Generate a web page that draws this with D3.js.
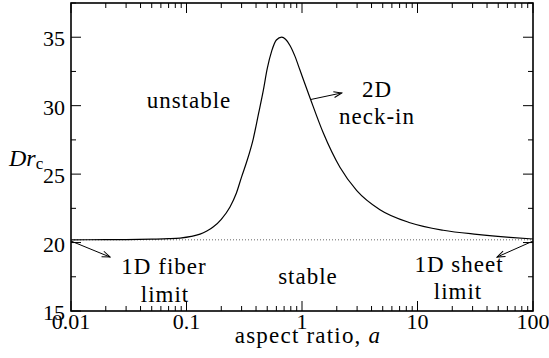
<!DOCTYPE html>
<html>
<head>
<meta charset="utf-8">
<script src="https://cdn.jsdelivr.net/npm/d3@7"></script>
</head>
<body style="margin:0">
<svg id="chart" width="549" height="358"></svg>
<script>
// curve
const aspectRatio = [0.01, 0.02, 0.03, 0.05, 0.07, 0.088, 0.11, 0.131, 0.15, 0.171, 0.2, 0.238, 0.27, 0.30, 0.332, 0.379, 0.42, 0.462, 0.50, 0.547, 0.60, 0.667, 0.72, 0.787, 0.87, 0.96, 1.17, 1.53, 2.13, 2.98, 4.73, 8.6, 16.7, 32.6, 63, 100];
const drc = [20.20, 20.21, 20.22, 20.25, 20.28, 20.33, 20.45, 20.62, 20.85, 21.15, 21.7, 22.6, 23.6, 24.8, 25.9, 27.6, 29.4, 31.1, 32.7, 34.0, 34.8, 35.0, 34.85, 34.4, 33.6, 32.6, 30.6, 28.0, 25.5, 23.8, 22.4, 21.45, 20.9, 20.6, 20.38, 20.26];
const limitDrc = 20.2;

const xTicks = [0.01, 0.1, 1, 10, 100];
const xTickLabels = ['0.01', '0.1', '1', '10', '100'];
const yTicks = [15, 20, 25, 30, 35];
const yMinorTicks = [17.5, 22.5, 27.5, 32.5, 37.5];

// annotation arrows: [fromA, fromDrc, toA, toDrc]
const arrowFiber = [0.01, 20.11, 0.0218, 18.94];
const arrowNeck = [1.19, 30.45, 2.21, 30.93];
const arrowSheet = [100, 20.11, 48.8, 18.94];

const FONT = 'Liberation Serif';
const svg = d3.select('#chart');
const margin = { top: 3, right: 16, bottom: 47, left: 71 };
const width = 549, height = 358;
const innerW = width - margin.left - margin.right;
const innerH = height - margin.top - margin.bottom;

const x = d3.scaleLog([0.01, 100], [0, innerW]);
const y = d3.scaleLinear([15, 37.5], [innerH, 0]);

svg.append('defs').append('marker')
  .attr('id', 'head').attr('viewBox', '0 0 10 8').attr('refX', 9).attr('refY', 4)
  .attr('markerWidth', 10).attr('markerHeight', 8).attr('markerUnits', 'userSpaceOnUse')
  .attr('orient', 'auto')
  .append('path').attr('d', 'M1,1 L9,4 L1,7').attr('fill', 'none').attr('stroke', '#000').attr('stroke-width', 1);

const g = svg.append('g').attr('transform', `translate(${margin.left},${margin.top})`);

const minorX = [];
for (let p = -2; p < 2; p++) for (let k = 2; k <= 9; k++) minorX.push(k * Math.pow(10, p));

// ticks on all four sides, pointing inward
const tickG = g.append('g').attr('stroke', '#000').attr('stroke-width', 1);
function tick(x1, y1, x2, y2) { tickG.append('line').attr('x1', x1).attr('y1', y1).attr('x2', x2).attr('y2', y2); }
xTicks.forEach((t) => { tick(x(t), innerH, x(t), innerH - 10); tick(x(t), 0, x(t), 10); });
minorX.forEach((t) => { tick(x(t), innerH, x(t), innerH - 5); tick(x(t), 0, x(t), 5); });
yTicks.forEach((t) => { tick(0, y(t), 10, y(t)); tick(innerW, y(t), innerW - 10, y(t)); });
yMinorTicks.forEach((t) => { tick(0, y(t), 5, y(t)); tick(innerW, y(t), innerW - 5, y(t)); });

g.append('rect').attr('width', innerW).attr('height', innerH)
  .attr('fill', 'none').attr('stroke', '#000').attr('stroke-width', 1.6);

// tick labels
g.append('g').selectAll('text').data(xTicks).join('text')
  .attr('font-family', FONT)
  .attr('x', (d) => x(d)).attr('y', innerH + 18)
  .attr('text-anchor', 'middle').attr('font-size', 22)
  .text((d, i) => xTickLabels[i]);
g.append('g').selectAll('text').data(yTicks).join('text')
  .attr('font-family', FONT)
  .attr('x', -6).attr('y', (d) => y(d) + 9)
  .attr('text-anchor', 'end').attr('font-size', 22)
  .text((d) => d);

// axis titles
const xt = g.append('text').attr('font-family', FONT).attr('x', innerW / 2 + 6).attr('y', innerH + 32)
  .attr('text-anchor', 'middle').attr('font-size', 23).attr('letter-spacing', 1.2);
xt.append('tspan').text('aspect ratio, ');
xt.append('tspan').attr('font-style', 'italic').text('a');
const yt = svg.append('text').attr('font-family', FONT).attr('x', 9).attr('y', 166).attr('font-size', 24);
yt.append('tspan').attr('font-style', 'italic').text('Dr');
yt.append('tspan').attr('font-size', 17).attr('dy', 3).text('c');

// 1D limit dotted line
g.append('line').attr('x1', 0).attr('x2', innerW).attr('y1', y(limitDrc)).attr('y2', y(limitDrc))
  .attr('stroke', '#666').attr('stroke-width', 1).attr('stroke-dasharray', '1,2');

// curve
const pts = aspectRatio.map((a, i) => [a, drc[i]]);
g.append('path').datum(pts)
  .attr('d', d3.line().x((d) => x(d[0])).y((d) => y(d[1])).curve(d3.curveMonotoneX))
  .attr('fill', 'none').attr('stroke', '#000').attr('stroke-width', 1.2);

// arrows
[arrowFiber, arrowNeck, arrowSheet].forEach((ar) => {
  g.append('line').attr('x1', x(ar[0])).attr('y1', y(ar[1])).attr('x2', x(ar[2])).attr('y2', y(ar[3]))
    .attr('stroke', '#000').attr('stroke-width', 1).attr('marker-end', 'url(#head)');
});

// region labels
const labels = [
  { text: 'unstable', cx: 189, by: 108 },
  { text: '2D', cx: 377, by: 97 },
  { text: 'neck-in', cx: 377, by: 124 },
  { text: 'stable', cx: 308, by: 284 },
  { text: '1D fiber', cx: 164, by: 274 },
  { text: 'limit', cx: 165, by: 302 },
  { text: '1D sheet', cx: 459, by: 272 },
  { text: 'limit', cx: 458, by: 299 },
];
svg.append('g').selectAll('text').data(labels).join('text')
  .attr('font-family', FONT)
  .attr('x', (d) => d.cx).attr('y', (d) => d.by)
  .attr('text-anchor', 'middle').attr('font-size', 23).attr('letter-spacing', 1)
  .text((d) => d.text);
</script>
</body>
</html>
